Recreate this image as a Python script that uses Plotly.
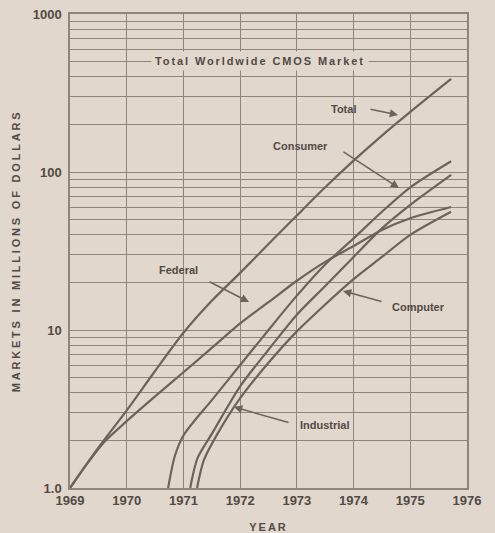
import plotly.graph_objects as go

# ---- data ----
total_years = [1969, 1969.5, 1970, 1970.5, 1971, 1971.5, 1972, 1972.5, 1973, 1973.5, 1974, 1974.5, 1975, 1975.72]
total_vals = [1.0, 1.8, 3.1, 5.5, 9.6, 15.3, 23, 35, 53, 80, 118, 170, 240, 388]

federal_years = [1969, 1969.3, 1969.6, 1970, 1970.5, 1971, 1971.5, 1972, 1972.5, 1973, 1973.5, 1974, 1974.5, 1975, 1975.72]
federal_vals = [1.0, 1.42, 1.95, 2.65, 3.8, 5.4, 7.7, 11, 15, 20.5, 27, 34, 43, 51, 60]

consumer_years = [1970.73, 1970.85, 1971, 1971.5, 1972, 1972.5, 1973, 1973.5, 1974, 1974.5, 1975, 1975.72]
consumer_vals = [1.0, 1.6, 2.15, 3.6, 6.0, 10, 16.5, 26, 38, 56, 80, 117]

industrial_years = [1971.12, 1971.25, 1971.5, 1972, 1972.5, 1973, 1973.5, 1974, 1974.5, 1975, 1975.72]
industrial_vals = [1.0, 1.55, 2.2, 4.4, 7.5, 12.5, 19, 29, 44, 62, 96]

computer_years = [1971.24, 1971.36, 1971.6, 1972, 1972.5, 1973, 1973.5, 1974, 1974.5, 1975, 1975.72]
computer_vals = [1.0, 1.5, 2.2, 3.7, 6.2, 9.8, 14.5, 21, 29, 40, 56]

year_ticks = [1969, 1970, 1971, 1972, 1973, 1974, 1975, 1976]
year_labels = ["1969", "1970", "1971", "1972", "1973", "1974", "1975", "1976"]

grid_vals = [m * 10 ** d for d in range(3) for m in range(1, 10)] + [1000]
grid_labels = {1: "1.0", 10: "10", 100: "100", 1000: "1000"}

# ---- style ----
BG = "#e1d7cc"
GRID = "#8f857c"
LINE = "#6c635c"
TEXT = "#524a44"
FONT = "Liberation Sans"

fig = go.Figure()
for xs, ys in [(total_years, total_vals), (federal_years, federal_vals),
               (consumer_years, consumer_vals), (industrial_years, industrial_vals),
               (computer_years, computer_vals)]:
    fig.add_trace(go.Scatter(x=xs, y=ys, mode="lines",
                             line=dict(color=LINE, width=2.2, shape="spline", smoothing=0.8),
                             showlegend=False, hoverinfo="skip"))

fig.update_layout(
    width=495, height=533,
    margin=dict(l=70, r=28, t=14, b=45),
    paper_bgcolor=BG, plot_bgcolor=BG,
    font=dict(family=FONT, color=TEXT, size=11),
    showlegend=False,
)

fig.update_xaxes(
    range=[1969, 1976], tickvals=year_ticks, ticktext=year_labels,
    showgrid=True, gridcolor=GRID, gridwidth=1.2,
    showline=True, linecolor=GRID, linewidth=1.5, mirror=True,
    zeroline=False, ticks="", automargin=False, ticklabelstandoff=0,
    tickfont=dict(family=FONT, size=13, color=TEXT, weight="bold"),
    title=dict(text='<span style="letter-spacing:2px">YEAR</span>',
               font=dict(family=FONT, size=11, color=TEXT, weight="bold"), standoff=22),
)
fig.update_yaxes(
    type="log", range=[0, 3], tickvals=grid_vals,
    ticktext=[grid_labels.get(v, "") for v in grid_vals],
    showgrid=True, gridcolor=GRID, gridwidth=1.2,
    showline=True, linecolor=GRID, linewidth=1.5, mirror=True,
    zeroline=False, ticks="", automargin=False, ticklabelstandoff=4,
    tickfont=dict(family=FONT, size=13, color=TEXT, weight="bold"),
    title=dict(text='<span style="letter-spacing:2.8px">MARKETS IN MILLIONS OF DOLLARS</span>',
               font=dict(family=FONT, size=11, color=TEXT, weight="bold"), standoff=10),
)


def yr(px):
    return 1969 + (px - 70) / 56.71


def lg(py):
    return (488 - py) / 158.0


annots = []
annots.append(dict(x=yr(260), y=lg(61), xref="x", yref="y", showarrow=False,
                   text='<span style="letter-spacing:1.9px">Total Worldwide CMOS Market</span>',
                   bgcolor=BG, borderpad=3,
                   font=dict(family=FONT, size=11, color=TEXT, weight="bold")))

labels = [("Total", 343, 109), ("Consumer", 300, 146), ("Federal", 178, 270),
          ("Computer", 418, 307), ("Industrial", 325, 425)]
for t, px, py in labels:
    annots.append(dict(x=yr(px), y=lg(py), xref="x", yref="y", showarrow=False,
                       text=t, font=dict(family=FONT, size=11, color=TEXT, weight="bold")))

arrows = [((369, 109), (398, 115)), ((342, 151), (399, 188)), ((208, 281), (249, 302)),
          ((383, 302), (343, 291)), ((290, 423), (234, 407))]
for (tx, ty), (hx, hy) in arrows:
    annots.append(dict(x=yr(hx), y=lg(hy), ax=yr(tx), ay=lg(ty), xref="x", yref="y",
                       axref="x", ayref="y", text="", showarrow=True,
                       arrowhead=2, arrowsize=1.1, arrowwidth=1.5, arrowcolor=LINE,
                       standoff=0, startstandoff=0))

fig.update_layout(annotations=annots)
fig.write_html("out.html", config={"displayModeBar": False},
               post_script="document.body.style.margin='0';")
